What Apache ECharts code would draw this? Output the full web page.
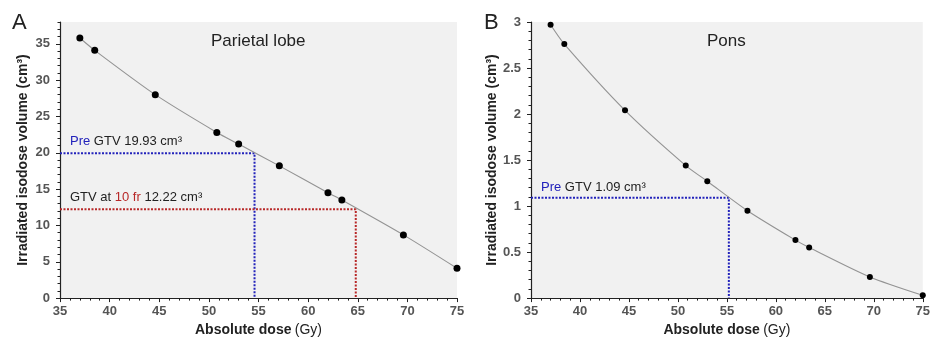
<!DOCTYPE html>
<html>
<head>
<meta charset="utf-8">
<script src="https://cdn.jsdelivr.net/npm/echarts@6/dist/echarts.min.js"></script>
<style>
  html, body { margin: 0; padding: 0; background: #fff; }
  #chart { width: 933px; height: 342px; }
</style>
</head>
<body>
<div id="chart"></div>
<script>
// 读图数据：剂量 (Gy) → 受照等剂量体积 (cm³)
const doseA = [37.0, 38.5, 44.6, 50.8, 53.0, 57.1, 62.0, 63.4, 69.6, 75.0];
const volumeA = [35.8, 34.1, 28.0, 22.8, 21.2, 18.2, 14.5, 13.5, 8.7, 4.1];
const doseB = [37.0, 38.4, 44.6, 50.8, 53.0, 57.1, 62.0, 63.4, 69.6, 75.0];
const volumeB = [2.97, 2.76, 2.04, 1.44, 1.27, 0.95, 0.63, 0.55, 0.23, 0.03];

// 参考线：GTV 体积及对应剂量
const preGtvA = 19.93, preDoseA = 54.6;
const fr10GtvA = 12.22, fr10DoseA = 64.8;
const preGtvB = 1.09, preDoseB = 55.2;

const yTicksA = [0, 5, 10, 15, 20, 25, 30, 35];

const FONT = "Liberation Sans, Arial, sans-serif";
const AXIS_COLOR = "#222";
const LABEL_COLOR = "#555";
const BLUE = "#2222bb";
const RED = "#b82828";

const zip = (xs, ys) => xs.map((x, i) => [x, ys[i]]);

function xAxisFor(gridIndex) {
  return {
    type: "value",
    gridIndex,
    min: 35,
    max: 75,
    interval: 5,
    name: "{b|Absolute dose} {n|(Gy)}",
    nameLocation: "middle",
    nameGap: 23,
    nameTextStyle: {
      rich: {
        b: { fontFamily: FONT, fontSize: 14, fontWeight: "bold", color: "#222" },
        n: { fontFamily: FONT, fontSize: 14, color: "#222" },
      },
    },
    axisLine: { lineStyle: { color: AXIS_COLOR, width: 1.2 } },
    axisTick: { length: 4, lineStyle: { color: AXIS_COLOR } },
    minorTick: { show: true, splitNumber: 5, length: 2.5, lineStyle: { color: AXIS_COLOR } },
    axisLabel: { margin: 7, fontFamily: FONT, fontSize: 13, fontWeight: "bold", color: LABEL_COLOR },
    splitLine: { show: false },
  };
}

function yAxisBase(gridIndex) {
  return {
    type: "value",
    gridIndex,
    min: 0,
    name: "Irradiated isodose volume (cm³)",
    nameLocation: "middle",
    nameGap: 30,
    nameTextStyle: { fontFamily: FONT, fontSize: 14, fontWeight: "bold", color: "#222" },
    axisLine: { show: true, lineStyle: { color: AXIS_COLOR, width: 1.2 } },
    axisTick: { show: true, length: 4, lineStyle: { color: AXIS_COLOR } },
    axisLabel: { margin: 10, fontFamily: FONT, fontSize: 13, fontWeight: "bold", color: LABEL_COLOR },
    splitLine: { show: false },
  };
}

const yA = yAxisBase(0);
yA.max = 38;
yA.interval = 5;
yA.axisTick.customValues = yTicksA;
yA.axisLabel.customValues = yTicksA;
yA.axisLabel.formatter = (v) => (v % 5 === 0 ? String(v) : "");

// A 面板 y 轴的次刻度（整数位置），单独叠一条不带文字的轴
const yAMinor = {
  type: "value",
  gridIndex: 0,
  min: 0,
  max: 38,
  interval: 1,
  position: "left",
  axisLine: { show: false },
  axisTick: { show: true, length: 2.5, lineStyle: { color: AXIS_COLOR } },
  axisLabel: { show: false },
  splitLine: { show: false },
};

const yB = yAxisBase(1);
yB.max = 3;
yB.interval = 0.5;
yB.minorTick = { show: true, splitNumber: 5, length: 2.5, lineStyle: { color: AXIS_COLOR } };

function curve(xIdx, yIdx, data, size) {
  return {
    type: "line",
    xAxisIndex: xIdx,
    yAxisIndex: yIdx,
    data,
    smooth: 0.25,
    symbol: "circle",
    symbolSize: size,
    itemStyle: { color: "#000" },
    lineStyle: { color: "#939393", width: 1.1 },
    z: 5,
    silent: true,
  };
}

function refLine(xIdx, yIdx, vol, dose, color) {
  return {
    type: "line",
    xAxisIndex: xIdx,
    yAxisIndex: yIdx,
    data: [[35, vol], [dose, vol], [dose, 0]],
    symbol: "none",
    lineStyle: { color, width: 2, type: [2, 1.5] },
    z: 3,
    silent: true,
  };
}

function label(left, top, text, rich, size) {
  return {
    type: "text",
    left,
    top,
    style: {
      text,
      fontFamily: FONT,
      fontSize: size || 13,
      fill: "#222",
      rich: rich || {},
    },
  };
}

const chart = echarts.init(document.getElementById("chart"), null, { renderer: "canvas" });
chart.setOption({
  animation: false,
  backgroundColor: "#fff",
  grid: [
    { left: 60, width: 397, top: 22, height: 278, show: true, backgroundColor: "#f1f1f1", borderWidth: 0 },
    { left: 531, width: 394, top: 22, height: 278, show: true, backgroundColor: "#f1f1f1", borderWidth: 0 },
  ],
  xAxis: [xAxisFor(0), xAxisFor(1)],
  yAxis: [yA, yAMinor, yB],
  series: [
    refLine(0, 0, preGtvA, preDoseA, BLUE),
    refLine(0, 0, fr10GtvA, fr10DoseA, RED),
    curve(0, 0, zip(doseA, volumeA), 7),
    refLine(1, 2, preGtvB, preDoseB, BLUE),
    curve(1, 2, zip(doseB, volumeB), 6),
  ],
  graphic: [
    label(12, 12, "A", null, 22),
    label(484, 12, "B", null, 22),
    label(211, 33, "Parietal lobe", null, 17),
    label(707, 33, "Pons", null, 17),
    label(70, 135, "{p|Pre} GTV 19.93 cm³", { p: { fill: BLUE, fontFamily: FONT, fontSize: 13 } }),
    label(70, 191, "GTV at {r|10 fr} 12.22 cm³", { r: { fill: RED, fontFamily: FONT, fontSize: 13 } }),
    label(541, 181, "{p|Pre} GTV 1.09 cm³", { p: { fill: BLUE, fontFamily: FONT, fontSize: 13 } }),
  ],
});
</script>
</body>
</html>
